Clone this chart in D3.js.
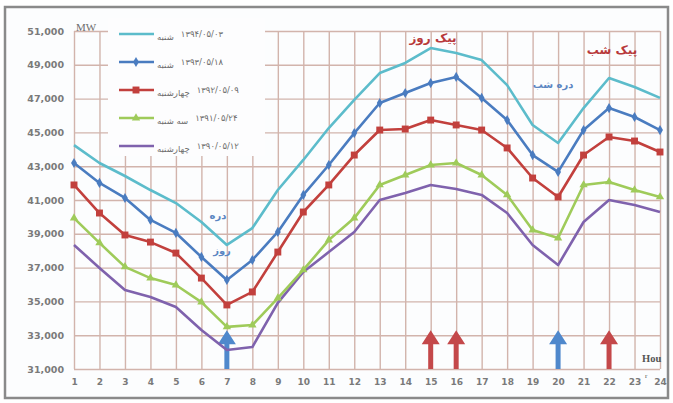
<!DOCTYPE html>
<html>
<head>
<meta charset="utf-8">
<script src="https://cdn.jsdelivr.net/npm/d3@7"></script>
<style>
  body { margin: 0; background: #fff; }
  .tick text { font-family: "DejaVu Sans", sans-serif; font-weight: bold; fill: #7a7a7a; }
</style>
</head>
<body>
<div id="load_chart_area"></div>
<script>
// hours on the x axis
var hours = d3.range(1, 25);
var yTicks = [31000, 33000, 35000, 37000, 39000, 41000, 43000, 45000, 47000, 49000, 51000];

// load (MW) per hour for each day
var load1394 = [44250, 43190, 42420, 41590, 40820, 39700, 38340, 39340, 41590, 43370, 45260, 46920,
                48510, 49110, 49990, 49700, 49280, 47800, 45440, 44370, 46440, 48220, 47690, 47040];
var load1393 = [43190, 42010, 41120, 39820, 39050, 37630, 36270, 37450, 39110, 41300, 43070, 44960,
                46740, 47330, 47920, 48280, 47040, 45730, 43660, 42660, 45140, 46440, 45910, 45140];
var load1392 = [41890, 40230, 38930, 38510, 37860, 36380, 34790, 35560, 37920, 40290, 41890, 43660,
                45140, 45200, 45730, 45440, 45140, 44080, 42300, 41180, 43660, 44730, 44490, 43840];
var load1391 = [39930, 38460, 37040, 36380, 35970, 34960, 33490, 33600, 35200, 36860, 38630, 39930,
                41890, 42480, 43070, 43190, 42480, 41300, 39220, 38750, 41890, 42070, 41590, 41180];
var load1390 = [38340, 36980, 35670, 35260, 34670, 33310, 32120, 32300, 34910, 36740, 37920, 39110,
                41000, 41410, 41890, 41650, 41300, 40230, 38340, 37150, 39700, 41000, 40700, 40290];

var seriesNames = ["شنبه", "شنبه", "چهارشنبه", "سه شنبه", "چهارشنبه"];
var seriesDates = ["۱۳۹۴/۰۵/۰۳", "۱۳۹۳/۰۵/۱۸", "۱۳۹۲/۰۵/۰۹", "۱۳۹۱/۰۵/۲۴", "۱۳۹۰/۰۵/۱۲"];

// peak / valley hours marked with arrows
var peakHours = [15, 16, 22];
var valleyHours = [7, 20];

var series = [
  {values: load1394, color: "#5cbccb", marker: null},
  {values: load1393, color: "#4a7cc0", marker: "diamond"},
  {values: load1392, color: "#c2403d", marker: "square"},
  {values: load1391, color: "#9fcb5a", marker: "triangle"},
  {values: load1390, color: "#7f62ad", marker: null}
];

// set the dimensions and margins of the graph
var margin = {top: 31, right: 13, bottom: 34, left: 74},
    width = 673 - margin.left - margin.right,
    height = 403 - margin.top - margin.bottom;

const root = d3.select("#load_chart_area")
.append("svg")
.attr("width", 673)
.attr("height", 403);

// outer frame
root.append("rect")
.attr("x", 5).attr("y", 7)
.attr("width", 663).attr("height", 391)
.attr("fill", "#fcfdfe")
.attr("stroke", "#8a8a8a")
.attr("stroke-width", 2.5);

const svg = root.append("g")
.attr("transform", `translate(${margin.left}, ${margin.top})`);

// X axis
const x = d3.scaleLinear()
.domain([1, 24])
.range([0, width]);
svg.append("g")
.attr("transform", `translate(0, ${height})`)
.call(d3.axisBottom(x).tickValues(hours).tickSize(-height).tickPadding(10))
.call(g => g.select(".domain").remove())
.call(g => g.selectAll("line").attr("stroke", "#d2b4ac").attr("stroke-width", 1.4))
.call(g => g.selectAll("text").attr("font-size", 9));

// Y axis
const y = d3.scaleLinear()
.domain([31000, 51000])
.range([height, 0]);
svg.append("g")
.call(d3.axisLeft(y).tickValues(yTicks).tickSize(-width).tickPadding(10).tickFormat(d3.format(",")))
.call(g => g.select(".domain").remove())
.call(g => g.selectAll("line").attr("stroke", "#d2b4ac").attr("stroke-width", 1.4))
.call(g => g.selectAll("text").attr("font-size", 9.5));

// arrows under the curves
function arrow(h, color) {
  var cx = x(h), base = y(31000), tip = y(33300);
  svg.append("path")
  .attr("d", `M${cx - 2.5},${base} L${cx - 2.5},${tip + 14} L${cx - 9},${tip + 14} L${cx},${tip} L${cx + 9},${tip + 14} L${cx + 2.5},${tip + 14} L${cx + 2.5},${base} Z`)
  .attr("fill", color);
}
peakHours.forEach(h => arrow(h, "#c4484a"));
valleyHours.forEach(h => arrow(h, "#4f88cc"));

// Add lines
const line = d3.line()
.x((d, i) => x(hours[i]))
.y(d => y(d));

series.slice().reverse().forEach(function(s) {
  svg.append("path")
  .datum(s.values)
  .attr("fill", "none")
  .attr("stroke", s.color)
  .attr("stroke-width", 2.6)
  .attr("stroke-linejoin", "round")
  .attr("d", line);

  if (s.marker) {
    var sym = s.marker == "diamond" ? d3.symbolDiamond : s.marker == "square" ? d3.symbolSquare : d3.symbolTriangle;
    var size = s.marker == "square" ? 48 : 30;
    svg.append("g")
    .selectAll("path")
    .data(s.values)
    .join("path")
    .attr("transform", (d, i) => `translate(${x(hours[i])}, ${y(d)})`)
    .attr("d", d3.symbol().type(sym).size(size))
    .attr("fill", s.color);
  }
});

// legend box
root.append("rect")
.attr("x", 108).attr("y", 18)
.attr("width", 157).attr("height", 138)
.attr("fill", "#fdfdfe");

series.forEach(function(s, i) {
  var ly = 34 + i * 28;
  root.append("line")
  .attr("x1", 119).attr("x2", 154)
  .attr("y1", ly).attr("y2", ly)
  .attr("stroke", s.color)
  .attr("stroke-width", 2.6);
  if (s.marker) {
    var sym = s.marker == "diamond" ? d3.symbolDiamond : s.marker == "square" ? d3.symbolSquare : d3.symbolTriangle;
    root.append("path")
    .attr("transform", `translate(136, ${ly})`)
    .attr("d", d3.symbol().type(sym).size(s.marker == "square" ? 48 : 30))
    .attr("fill", s.color);
  }
  var t = root.append("text")
  .attr("x", 157).attr("y", ly + 6)
  .attr("font-family", "DejaVu Sans")
  .attr("font-size", 8.5)
  .attr("fill", "#6d6d6d")
  .text(seriesNames[i]);
  var w = t.node().getComputedTextLength();
  root.append("text")
  .attr("x", 157 + w + 7).attr("y", ly + 3)
  .attr("font-family", "DejaVu Sans")
  .attr("font-size", 8.5)
  .attr("fill", "#6d6d6d")
  .text(seriesDates[i]);
});

// axis titles
root.append("text")
.attr("x", 76).attr("y", 31)
.attr("font-family", "Liberation Serif")
.attr("font-size", 11)
.attr("fill", "#6d6d6d")
.text("MW");

root.append("text")
.attr("x", 642).attr("y", 362)
.attr("font-family", "Liberation Serif")
.attr("font-weight", "bold")
.attr("font-size", 10.5)
.attr("fill", "#555")
.text("Hou");

root.append("text")
.attr("x", 645).attr("y", 378)
.attr("font-family", "Liberation Serif")
.attr("font-size", 7)
.attr("fill", "#555")
.text("r");

// annotations
function note(txt, px, py, color, size) {
  root.append("text")
  .attr("x", px).attr("y", py)
  .attr("text-anchor", "middle")
  .attr("font-family", "DejaVu Sans")
  .attr("font-weight", "bold")
  .attr("font-size", size)
  .attr("fill", color)
  .text(txt);
}
note("پیک روز", 433, 42, "#b8393b", 12);
note("پیک شب", 612, 54, "#b8393b", 12);
note("دره شب", 553, 88, "#5b86c2", 10);
note("دره", 218, 219, "#5b86c2", 10);
note("روز", 222, 254, "#5b86c2", 10);
</script>
</body>
</html>
